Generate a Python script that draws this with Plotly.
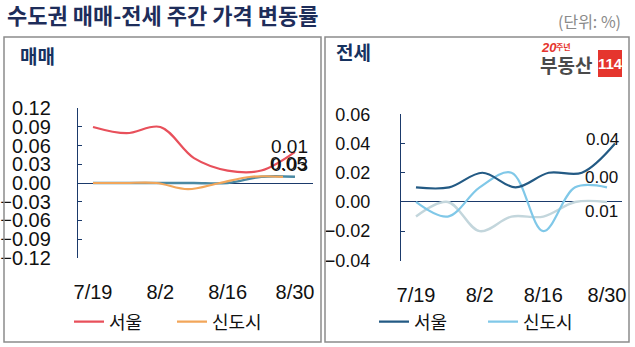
import plotly.graph_objects as go

# Weekly observation dates and the ones shown on the x axis
weeks = ["7/19", "7/26", "8/2", "8/9", "8/16", "8/23", "8/30"]
tick_weeks = ["7/19", "8/2", "8/16", "8/30"]

# 매매 (sale) weekly price change, %
sale_seoul = [0.09, 0.08, 0.09, 0.04, 0.02, 0.02, 0.05]
sale_newtown = [0.00, 0.00, 0.00, -0.01, 0.00, 0.01, 0.01]
sale_gyeonggi = [0.00, 0.00, 0.00, 0.00, 0.00, 0.01, 0.01]

# 전세 (jeonse) weekly price change, %
jeonse_seoul = [0.01, 0.01, 0.02, 0.01, 0.02, 0.02, 0.04]
jeonse_newtown = [0.00, -0.01, 0.01, 0.02, -0.02, 0.01, 0.01]
jeonse_gyeonggi = [-0.01, 0.00, -0.02, -0.01, -0.01, 0.00, 0.00]

sale_yticks = [0.12, 0.09, 0.06, 0.03, 0.00, -0.03, -0.06, -0.09, -0.12]
jeonse_yticks = [0.06, 0.04, 0.02, 0.00, -0.02, -0.04]

# stray overlapping end label printed beside the 매매 series
sale_extra_label = "0.03"

W, H = 635, 347


def px(x):
    return x / W


def py(y):
    return 1 - y / H


NAVY = "#1B3A6B"
RED = "#E8505B"
ORANGE = "#F2A65A"
TEAL = "#4A89A3"
DARKBLUE = "#235A84"
LIGHTBLUE = "#80C8E8"
PALE = "#C3D6DC"
NUM_FONT = "Liberation Sans, Arial, sans-serif"
KR_FONT = "Noto Sans CJK KR, sans-serif"

fig = go.Figure()

# ---- 매매 panel ----
fig.add_trace(go.Scatter(x=weeks, y=sale_newtown, xaxis="x2", yaxis="y", mode="lines",
                         line=dict(color=ORANGE, width=2.2, shape="spline"),
                         name="신도시", legend="legend", legendrank=2))
fig.add_trace(go.Scatter(x=weeks, y=sale_gyeonggi, xaxis="x", yaxis="y", mode="lines",
                         line=dict(color=TEAL, width=2.4, shape="spline"),
                         showlegend=False))
fig.add_trace(go.Scatter(x=weeks, y=sale_seoul, xaxis="x", yaxis="y", mode="lines",
                         line=dict(color=RED, width=2.2, shape="spline"),
                         name="서울", legend="legend", legendrank=1))

# ---- 전세 panel ----
fig.add_trace(go.Scatter(x=weeks, y=jeonse_gyeonggi, xaxis="x3", yaxis="y2", mode="lines",
                         line=dict(color=PALE, width=2.4, shape="spline"),
                         showlegend=False))
fig.add_trace(go.Scatter(x=weeks, y=jeonse_newtown, xaxis="x3", yaxis="y2", mode="lines",
                         line=dict(color=LIGHTBLUE, width=2.2, shape="spline"),
                         name="신도시", legend="legend2", legendrank=2))
fig.add_trace(go.Scatter(x=weeks, y=jeonse_seoul, xaxis="x4", yaxis="y2", mode="lines",
                         line=dict(color=DARKBLUE, width=2.2, shape="spline"),
                         name="서울", legend="legend2", legendrank=1))

xcommon = dict(type="category", categoryorder="array", categoryarray=weeks,
               showgrid=False, zeroline=False, showline=False, ticks="",
               tickvals=tick_weeks, ticktext=tick_weeks, automargin=False,
               tickfont=dict(family=NUM_FONT, size=20, color="#111"),
               fixedrange=True)

ycommon = dict(showgrid=False, showline=True, linecolor=NAVY, linewidth=1.3,
               ticks="inside", ticklen=4, tickcolor=NAVY, tickwidth=1.3,
               zeroline=True, zerolinecolor=NAVY, zerolinewidth=1.4,
               tickformat=".2f", fixedrange=True, automargin=False)

fig.update_layout(
    width=W, height=H,
    margin=dict(l=0, r=0, t=0, b=0, autoexpand=False),
    paper_bgcolor="white", plot_bgcolor="rgba(0,0,0,0)",
    xaxis=dict(xcommon, domain=[px(78), px(313)], range=[-0.4455, 6.535],
               anchor="y", ticklabelstandoff=20),
    xaxis2=dict(domain=[px(78), px(313)], range=[-0.4737, 6.947], type="category",
                categoryorder="array", categoryarray=weeks,
                overlaying="x", anchor="y", visible=False),
    yaxis=dict(ycommon, domain=[py(258), py(108)], range=[-0.1205, 0.1205],
               tickvals=sale_yticks, anchor="x", ticklabelstandoff=22,
               tickfont=dict(family=NUM_FONT, size=20, color="#111")),
    xaxis3=dict(xcommon, domain=[px(401), px(622)], range=[-0.471, 6.472],
                anchor="y2", ticklabelstandoff=20),
    xaxis4=dict(domain=[px(401), px(622)], range=[-0.452, 6.21], type="category",
                categoryorder="array", categoryarray=weeks,
                overlaying="x3", anchor="y2", visible=False),
    yaxis2=dict(ycommon, domain=[py(260.7), py(114)], range=[-0.0402, 0.0602],
                tickvals=jeonse_yticks, anchor="x3", ticklabelstandoff=26,
                tickfont=dict(family=NUM_FONT, size=18, color="#111")),
    legend=dict(orientation="h", x=px(69), y=py(322), xanchor="left", yanchor="middle",
                bgcolor="rgba(0,0,0,0)", borderwidth=0,
                entrywidth=58, entrywidthmode="pixels", tracegroupgap=0,
                font=dict(family=KR_FONT, size=18, color="#111")),
    legend2=dict(orientation="h", x=px(374), y=py(322), xanchor="left", yanchor="middle",
                 bgcolor="rgba(0,0,0,0)", borderwidth=0,
                 entrywidth=64, entrywidthmode="pixels", tracegroupgap=0,
                 font=dict(family=KR_FONT, size=18, color="#111")),
    showlegend=True,
)

# panel frames and logo box
fig.add_shape(type="rect", xref="paper", yref="paper",
              x0=px(4), x1=px(321), y0=py(342), y1=py(37),
              line=dict(color="#8C8C8C", width=1.5), fillcolor="rgba(0,0,0,0)")
fig.add_shape(type="rect", xref="paper", yref="paper",
              x0=px(325), x1=px(629), y0=py(342), y1=py(37),
              line=dict(color="#8C8C8C", width=1.5), fillcolor="rgba(0,0,0,0)")
fig.add_shape(type="rect", xref="paper", yref="paper",
              x0=px(598), x1=px(622), y0=py(77), y1=py(50),
              line=dict(width=0), fillcolor="#E5352E")


def text(x, y, s, size, color, family=KR_FONT, anchor="left", bold=False):
    fig.add_annotation(xref="paper", yref="paper", x=px(x), y=py(y), text=s,
                       showarrow=False, xanchor=anchor, yanchor="middle",
                       font=dict(family=family, size=size, color=color,
                                 weight="bold" if bold else "normal"))


text(5, 14.5, "수도권 매매-전세 주간 가격 변동률", 22, "#1E2D5A", bold=True)
text(623, 21, "(단위: %)", 16, "#8A8A8A", anchor="right")
text(18, 55, "매매", 19, "#16325F", bold=True)
text(334, 52, "전세", 19, "#16325F", bold=True)

# 부동산114 logo
text(539, 48, "<i>20</i>", 13, "#E5352E", family=NUM_FONT, bold=True)
text(554, 47, "주년", 8, "#E5352E", bold=True)
text(538, 64, "부동산", 19, "#4A4A4A", bold=True)
text(610, 63.5, "114", 15, "white", family=NUM_FONT, anchor="center", bold=True)

# end-of-line value labels
def end_label(value, xa, ya, xshift, yshift, size):
    fig.add_annotation(x=weeks[-1], y=value, xref=xa, yref=ya, text=f"{value:.2f}",
                       showarrow=False, xanchor="center", yanchor="middle",
                       xshift=xshift, yshift=yshift,
                       font=dict(family=NUM_FONT, size=size, color="#111"))


end_label(sale_newtown[-1], "x2", "y", 6, 30, 19)
end_label(sale_seoul[-1], "x", "y", -6, -12, 19)
text(289, 164, sale_extra_label, 19, "#111", family=NUM_FONT, anchor="center")

end_label(jeonse_seoul[-1], "x4", "y2", -13, 4, 17)
end_label(jeonse_gyeonggi[-1], "x3", "y2", -5, 24, 17)
end_label(jeonse_newtown[-1], "x3", "y2", -5, -24, 17)

fig.write_html("out.html")
